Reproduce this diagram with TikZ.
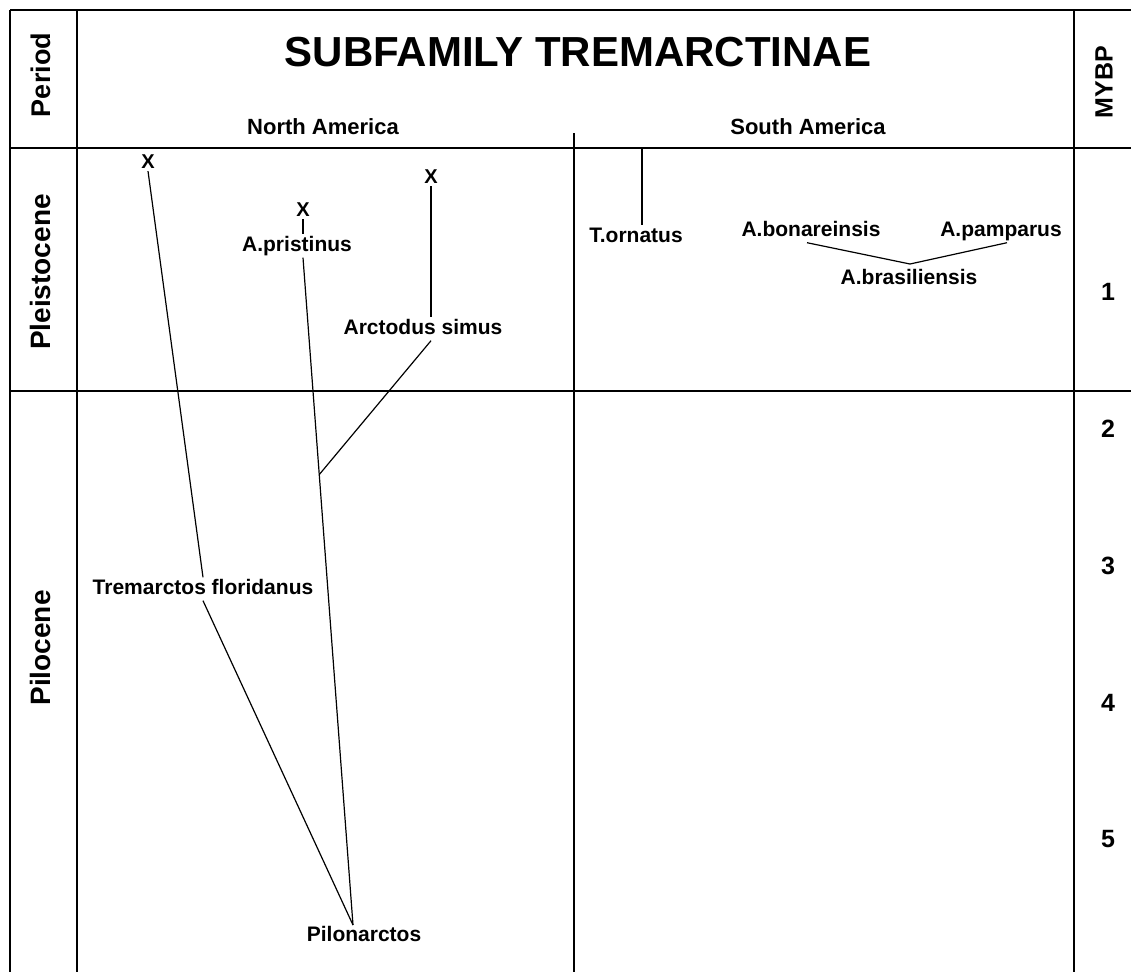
\documentclass[tikz,border=0pt]{standalone}
\usepackage{fontspec}
\setmainfont{Liberation Sans}
\usetikzlibrary{calc}
\begin{document}
\begin{tikzpicture}[x=1pt,y=-1pt,
  frame/.style={line width=1.8pt},
  ln/.style={line width=1.2pt},
  title/.style={font=\fontsize{42}{46}\selectfont\bfseries, inner sep=0pt},
  head/.style={font=\fontsize{22}{26}\selectfont\bfseries, inner sep=0pt},
  vert/.style={font=\fontsize{28}{30}\selectfont\bfseries, rotate=90, inner sep=0pt},
  num/.style={font=\fontsize{25}{28}\selectfont\bfseries, inner sep=0pt},
  lbl/.style={font=\fontsize{21}{24}\selectfont\bfseries, inner sep=2pt, text height=15pt, text depth=4pt},
  xm/.style={font=\fontsize{20}{22}\selectfont\bfseries, inner sep=2pt}]
\useasboundingbox (0,0) rectangle (1131,972);
% frame
\coordinate (tl) at (10,10);
\coordinate (tr) at (1131,10);
\coordinate (bl) at (10,972);
\coordinate (c1t) at (77,10);
\coordinate (c1b) at (77,972);
\coordinate (c2t) at (1074,10);
\coordinate (c2b) at (1074,972);
\coordinate (hl) at (10,148);
\coordinate (hr) at (1131,148);
\coordinate (pl) at (10,391);
\coordinate (pr) at (1131,391);
\coordinate (dt) at (574,133);
\coordinate (db) at (574,972);
\draw[frame] (tl) -- (tr);
\draw[frame] (tl) -- (bl);
\draw[frame] (c1t) -- (c1b);
\draw[frame] (c2t) -- (c2b);
\draw[frame] (hl) -- (hr);
\draw[frame] (pl) -- (pr);
\draw[ln] (dt) -- (db);
% headings
\node[title] (title) at (578,52) {SUBFAMILY TREMARCTINAE};
\node[head] (na) at (323,127) {North America};
\node[head] (sa) at (808,127) {South America};
\node[vert, font=\fontsize{27}{30}\selectfont\bfseries] (period) at (41,75) {Period};
\node[vert, font=\fontsize{25}{30}\selectfont\bfseries] (mybp) at (1104,82) {MYBP};
\node[vert] (pleist) at (40,272) {Pleistocene};
\node[vert] (plio) at (40,648) {Pilocene};
% time scale
\node[num] (n1) at (1108,292) {1};
\node[num] (n2) at (1108,429) {2};
\node[num] (n3) at (1108,566) {3};
\node[num] (n4) at (1108,703) {4};
\node[num] (n5) at (1108,839) {5};
% North America
\node[xm] (x1) at (148,162) {X};
\node[xm] (x2) at (303,210) {X};
\node[xm] (x3) at (431,177) {X};
\node[lbl] (prist) at (297,246) {A.pristinus};
\node[lbl] (arct) at (423,329) {Arctodus simus};
\node[lbl] (trem) at (203,589) {Tremarctos floridanus};
\node[lbl] (pilo) at (364,936) {Pilonarctos};
\coordinate (J) at (353,925);
\draw[ln] (x1.south) -- (trem.north);
\draw[ln] (trem.south) -- (J);
\draw[ln] (x2.south) -- (x2.south |- prist.north);
\draw[ln] (prist.south -| x2) -- (J);
\coordinate (K) at ($(prist.south -| x2)!0.325!(J)$);
\draw[ln] (x3.south) -- (x3.south |- arct.north);
\draw[ln] (arct.south -| x3) -- (K);
% South America
\node[lbl] (torn) at (636,237) {T.ornatus};
\node[lbl] (bon) at (811,231) {A.bonareinsis};
\node[lbl] (pam) at (1001,231) {A.pamparus};
\node[lbl] (bras) at (909,279) {A.brasiliensis};
\coordinate (tt) at (642,148);
\coordinate (B) at (910,264);
\draw[ln] (tt) -- (tt |- torn.north);
\draw[ln] ([xshift=-4pt]bon.south) -- (B) -- ([xshift=6pt]pam.south);
\end{tikzpicture}
\end{document}
